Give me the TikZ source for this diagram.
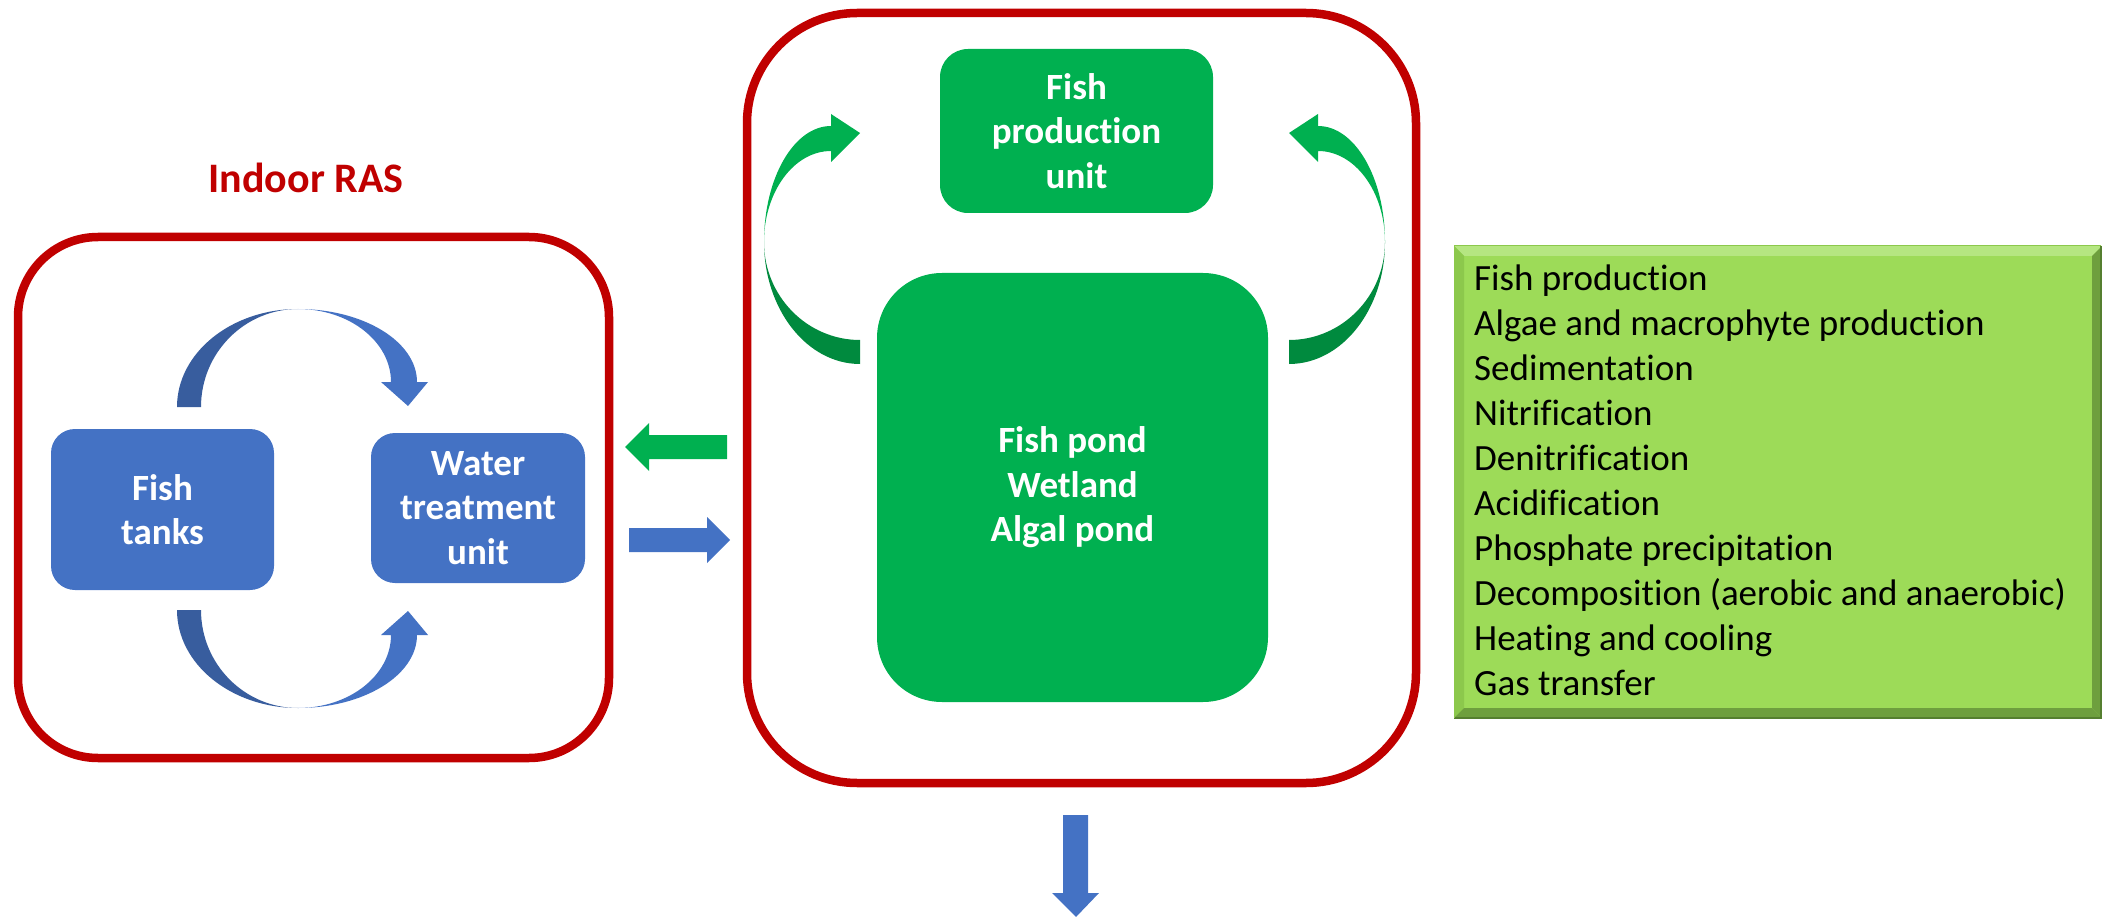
\documentclass[tikz,border=0pt]{standalone}
\usepackage{fontspec}
\setmainfont{Carlito}[Ligatures=NoCommon]
\definecolor{rasred}{HTML}{C00000}
\definecolor{blueA}{HTML}{4472C4}
\definecolor{blueD}{HTML}{385D9E}
\definecolor{greenA}{HTML}{00B050}
\definecolor{greenD}{HTML}{008A3E}
\definecolor{listface}{HTML}{9DDB58}
\definecolor{listlight}{HTML}{B5E681}
\definecolor{listmid}{HTML}{8CC84C}
\definecolor{listdark}{HTML}{6E9F3E}
\definecolor{listdarker}{HTML}{557F30}
\newcommand\boxtxt{\bfseries\fontsize{37}{44.4}\selectfont}
\newcommand\listtxt{\fontsize{37}{44.9}\selectfont}
\begin{document}
\begin{tikzpicture}[x=1pt,y=-1pt,
  redbox/.style={draw=rasred, line width=8.5pt, rectangle, inner sep=0pt},
  bluebox/.style={fill=blueA, rectangle, rounded corners=24pt, text=white, font=\boxtxt, align=center, inner sep=0pt},
  greenbox/.style={fill=greenA, rectangle, text=white, font=\boxtxt, align=center, inner sep=0pt},
  listitem/.style={anchor=base west, inner sep=0pt, font=\listtxt, text=black}]
\useasboundingbox (0,0) rectangle (2102,917);

% red frames
\node[redbox, rounded corners=80pt, minimum width=591pt, minimum height=521pt] (ras) at (313.5,497.5) {};
\node[redbox, rounded corners=110pt, minimum width=669pt, minimum height=770pt] (outdoor) at (1081.5,398) {};
\node[anchor=base, text=rasred, font=\bfseries\fontsize{42}{50}\selectfont, inner sep=0pt] (title) at (306,193) {Indoor RAS};

% blue boxes
\node[bluebox, minimum width=223pt, minimum height=161pt] (tanks) at (162.5,509.5) {Fish\\tanks};
\node[bluebox, minimum width=214pt, minimum height=150pt] (wtu) at (478,508) {Water\\treatment\\unit};

% blue curved arrows (top)
\fill[blueD] (177,407) .. controls (177,352.9) and (231.2,309) .. (298,309)
   .. controls (244.4,309) and (201,352.9) .. (201,407) -- cycle;
\fill[blueA] (298,309) .. controls (363.7,309) and (417,341.7) .. (417,382)
   -- (428,382) -- (408,406) -- (381,382) -- (391,382)
   .. controls (391,341.7) and (349.4,309) .. (298,309) -- cycle;
% blue curved arrows (bottom, mirrored)
\begin{scope}[shift={(0,1017)}, yscale=-1]
\fill[blueD] (177,407) .. controls (177,352.9) and (231.2,309) .. (298,309)
   .. controls (244.4,309) and (201,352.9) .. (201,407) -- cycle;
\fill[blueA] (298,309) .. controls (363.7,309) and (417,341.7) .. (417,382)
   -- (428,382) -- (408,406) -- (381,382) -- (391,382)
   .. controls (391,341.7) and (349.4,309) .. (298,309) -- cycle;
\end{scope}

% straight arrows between frames
\fill[greenA] (727,435) -- (649,435) -- (649,423) -- (625,447) -- (649,471) -- (649,459) -- (727,459) -- cycle;
\fill[blueA] (629,528) -- (707,528) -- (707,517) -- (730,540) -- (707,563) -- (707,552) -- (629,552) -- cycle;
\fill[blueA] (1063,815) -- (1088,815) -- (1088,893) -- (1099,893) -- (1076,917) -- (1052,893) -- (1063,893) -- cycle;

% green boxes
\node[greenbox, rounded corners=28pt, minimum width=273pt, minimum height=164pt] (fpu) at (1076.5,131) {Fish\\production\\unit};
\node[greenbox, rounded corners=65pt, minimum width=391pt, minimum height=429pt] (pond) at (1072.5,487.5) {Fish pond\\Wetland\\Algal pond};

% green curved arrows (left)
\fill[greenA] (764,242) .. controls (764,177.9) and (794,126) .. (831,126)
   -- (831,114) -- (860,133) -- (831,162) -- (831,151)
   .. controls (794,151) and (764,191.7) .. (764,242) -- cycle;
\fill[greenD] (764,242) .. controls (764,309.4) and (807,364) .. (860,364)
   -- (860,340) .. controls (807,340) and (764,296.1) .. (764,242) -- cycle;
% green curved arrows (right, mirrored)
\begin{scope}[shift={(2149,0)}, xscale=-1]
\fill[greenA] (764,242) .. controls (764,177.9) and (794,126) .. (831,126)
   -- (831,114) -- (860,133) -- (831,162) -- (831,151)
   .. controls (794,151) and (764,191.7) .. (764,242) -- cycle;
\fill[greenD] (764,242) .. controls (764,309.4) and (807,364) .. (860,364)
   -- (860,340) .. controls (807,340) and (764,296.1) .. (764,242) -- cycle;
\end{scope}

% process list box with bevel
\node[rectangle, fill=listface, minimum width=648pt, minimum height=472pt, inner sep=0pt] (list) at (1778,482) {};
\fill[listlight] (1454,246) -- (2102,246) -- (2092,256) -- (1464,256) -- cycle;
\fill[listmid] (1454,246) -- (1464,256) -- (1464,708) -- (1454,718) -- cycle;
\fill[listdark] (1454,718) -- (2102,718) -- (2092,708) -- (1464,708) -- cycle;
\fill[listdark] (2102,246) -- (2102,718) -- (2092,708) -- (2092,256) -- cycle;
\draw[listdarker, line width=1.5pt] (1454,718) -- (2101,718) -- (2101,246);
\draw[listmid, line width=1pt] (1454,718) -- (1454,246) -- (2101,246);

\foreach \t [count=\i from 0] in {Fish production, Algae and macrophyte production, Sedimentation, Nitrification, Denitrification, Acidification, Phosphate precipitation, Decomposition (aerobic and anaerobic), Heating and cooling, Gas transfer}
  \node[listitem] (item\i) at (1474,{291+44.9*\i}) {\t};
\end{tikzpicture}
\end{document}
